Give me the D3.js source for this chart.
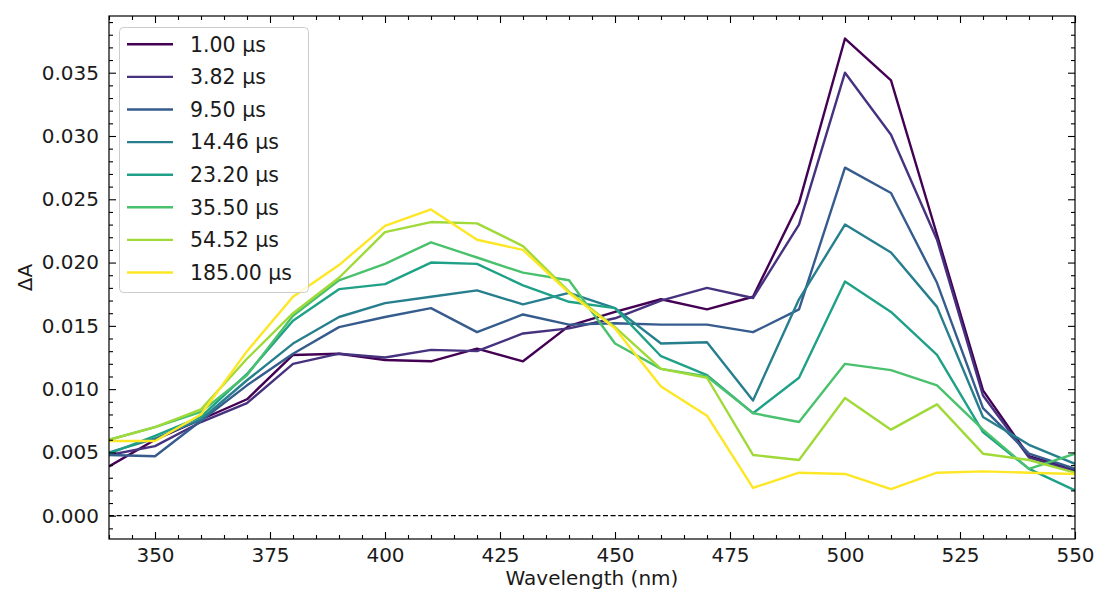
<!DOCTYPE html>
<html>
<head>
<meta charset="utf-8">
<script src="https://cdn.jsdelivr.net/npm/d3@7/dist/d3.min.js"></script>
<style>
  html, body { margin: 0; padding: 0; background: #fff; }
  svg { display: block; }
  text { font-family: "DejaVu Sans", sans-serif; }
</style>
</head>
<body>
<svg id="chart" width="1095" height="591"></svg>
<script>
// ---- data ----
const wavelengths = [340,350,360,370,380,390,400,410,420,430,440,450,460,470,480,490,500,510,520,530,540,550];
const seriesLabels = ["1.00 µs","3.82 µs","9.50 µs","14.46 µs","23.20 µs","35.50 µs","54.52 µs","185.00 µs"];
const s1_00   = [0.0039,0.0060,0.0076,0.0092,0.0127,0.0128,0.0123,0.0122,0.0132,0.0122,0.0150,0.0161,0.0171,0.0163,0.0173,0.0247,0.0377,0.0344,0.0222,0.0099,0.0047,0.0036];
const s3_82   = [0.0048,0.0055,0.0074,0.0089,0.0120,0.0128,0.0125,0.0131,0.0130,0.0144,0.0148,0.0156,0.0170,0.0180,0.0172,0.0230,0.0350,0.0301,0.0218,0.0095,0.0046,0.0035];
const s9_50   = [0.0048,0.0047,0.0075,0.0103,0.0128,0.0149,0.0157,0.0164,0.0145,0.0159,0.0151,0.0152,0.0151,0.0151,0.0145,0.0163,0.0275,0.0255,0.0184,0.0085,0.0049,0.0037];
const s14_46  = [0.0050,0.0061,0.0076,0.0107,0.0136,0.0157,0.0168,0.0173,0.0178,0.0167,0.0176,0.0164,0.0136,0.0137,0.0091,0.0171,0.0230,0.0208,0.0165,0.0078,0.0056,0.0041];
const s23_20  = [0.0049,0.0063,0.0078,0.0112,0.0154,0.0179,0.0183,0.0200,0.0199,0.0182,0.0169,0.0164,0.0126,0.0111,0.0081,0.0109,0.0185,0.0161,0.0127,0.0066,0.0037,0.0020];
const s35_50  = [0.0060,0.0070,0.0082,0.0111,0.0158,0.0186,0.0199,0.0216,0.0204,0.0192,0.0186,0.0136,0.0116,0.0110,0.0081,0.0074,0.0120,0.0115,0.0103,0.0068,0.0037,0.0049];
const s54_52  = [0.0060,0.0070,0.0084,0.0124,0.0160,0.0188,0.0224,0.0232,0.0231,0.0213,0.0177,0.0149,0.0116,0.0109,0.0048,0.0044,0.0093,0.0068,0.0088,0.0049,0.0044,0.0034];
const s185_00 = [0.0059,0.0059,0.0080,0.0130,0.0173,0.0198,0.0229,0.0242,0.0218,0.0210,0.0176,0.0148,0.0102,0.0079,0.0022,0.0034,0.0033,0.0021,0.0034,0.0035,0.0034,0.0033];
const allSeries = [s1_00,s3_82,s9_50,s14_46,s23_20,s35_50,s54_52,s185_00];
const xTicks = [350,375,400,425,450,475,500,525,550];
const yTicks = [0.000,0.005,0.010,0.015,0.020,0.025,0.030,0.035];
const xLabel = "Wavelength (nm)";
const yLabel = "ΔA";

// ---- layout ----
const L = 109, R = 1075, T = 16, B = 539;
const svg = d3.select("#chart");
const x = d3.scaleLinear().domain([340, 550]).range([L, R]);
const y = d3.scaleLinear().domain([-0.00184, 0.03948]).range([B, T]);
const colors = seriesLabels.map((d, i) => d3.interpolateViridis(i / (seriesLabels.length - 1)));

const xMinor = d3.range(340, 551, 5).filter(v => !xTicks.includes(v));
const yMinor = d3.range(-1, 40, 1).map(v => v / 1000).filter(v => v >= -0.00184 && v <= 0.03948 && !yTicks.some(t => Math.abs(t - v) < 1e-9));

function styleAxis(g) {
  g.select(".domain").remove();
  g.selectAll(".tick line").attr("stroke", "#000").attr("stroke-width", 1.1);
  g.selectAll(".tick text").attr("fill", "#1a1a1a").style("font-size", "20px").style("font-family", "DejaVu Sans, sans-serif");
}

// zero line
svg.append("line")
  .attr("x1", L).attr("x2", R).attr("y1", y(0)).attr("y2", y(0))
  .attr("stroke", "#000").attr("stroke-width", 1.2).attr("stroke-dasharray", "5,2.6");

// series lines
const clip = svg.append("clipPath").attr("id", "clip").append("rect")
  .attr("x", L).attr("y", T).attr("width", R - L).attr("height", B - T);
const line = d3.line().x((d, i) => x(wavelengths[i])).y(d => y(d));
const gLines = svg.append("g").attr("clip-path", "url(#clip)");
allSeries.forEach((s, i) => {
  gLines.append("path").datum(s)
    .attr("d", line)
    .attr("fill", "none")
    .attr("stroke", colors[i])
    .attr("stroke-width", 2.4)
    .attr("stroke-linejoin", "round");
});

// axes: bottom
svg.append("g").attr("transform", `translate(0,${B})`)
  .call(d3.axisBottom(x).tickValues(xTicks).tickSize(-7).tickPadding(9).tickFormat(d3.format("d")))
  .call(styleAxis);
svg.append("g").attr("transform", `translate(0,${B})`)
  .call(d3.axisBottom(x).tickValues(xMinor).tickSize(-4).tickFormat(""))
  .call(styleAxis);
// top
svg.append("g").attr("transform", `translate(0,${T})`)
  .call(d3.axisTop(x).tickValues(xTicks).tickSize(-7).tickFormat(""))
  .call(styleAxis);
svg.append("g").attr("transform", `translate(0,${T})`)
  .call(d3.axisTop(x).tickValues(xMinor).tickSize(-4).tickFormat(""))
  .call(styleAxis);
// left
svg.append("g").attr("transform", `translate(${L},0)`)
  .call(d3.axisLeft(y).tickValues(yTicks).tickSize(-7).tickPadding(10).tickFormat(d3.format(".3f")))
  .call(styleAxis);
svg.append("g").attr("transform", `translate(${L},0)`)
  .call(d3.axisLeft(y).tickValues(yMinor).tickSize(-4).tickFormat(""))
  .call(styleAxis);
// right
svg.append("g").attr("transform", `translate(${R},0)`)
  .call(d3.axisRight(y).tickValues(yTicks).tickSize(-7).tickFormat(""))
  .call(styleAxis);
svg.append("g").attr("transform", `translate(${R},0)`)
  .call(d3.axisRight(y).tickValues(yMinor).tickSize(-4).tickFormat(""))
  .call(styleAxis);

// frame
svg.append("rect").attr("x", L).attr("y", T).attr("width", R - L).attr("height", B - T)
  .attr("fill", "none").attr("stroke", "#000").attr("stroke-width", 1.2);

// axis labels
svg.append("text").attr("x", (L + R) / 2).attr("y", 585)
  .attr("text-anchor", "middle").attr("fill", "#1a1a1a").style("font-size", "20px").text(xLabel);
svg.append("text").attr("transform", `translate(32,${(T + B) / 2}) rotate(-90)`)
  .attr("text-anchor", "middle").attr("fill", "#1a1a1a").style("font-size", "20px").text(yLabel);

// legend
const lg = svg.append("g");
lg.append("rect").attr("x", 119.5).attr("y", 27.5).attr("width", 189).attr("height", 265)
  .attr("rx", 4).attr("fill", "#fff").attr("fill-opacity", 0.8)
  .attr("stroke", "#cccccc").attr("stroke-width", 1);
seriesLabels.forEach((lab, i) => {
  const yy = 44.3 + i * 32.6;
  lg.append("line").attr("x1", 127).attr("x2", 173).attr("y1", yy).attr("y2", yy)
    .attr("stroke", colors[i]).attr("stroke-width", 2.4);
  lg.append("text").attr("x", 190).attr("y", yy).attr("dy", "0.36em")
    .attr("fill", "#1a1a1a").style("font-size", "20.5px").text(lab);
});
</script>
</body>
</html>
